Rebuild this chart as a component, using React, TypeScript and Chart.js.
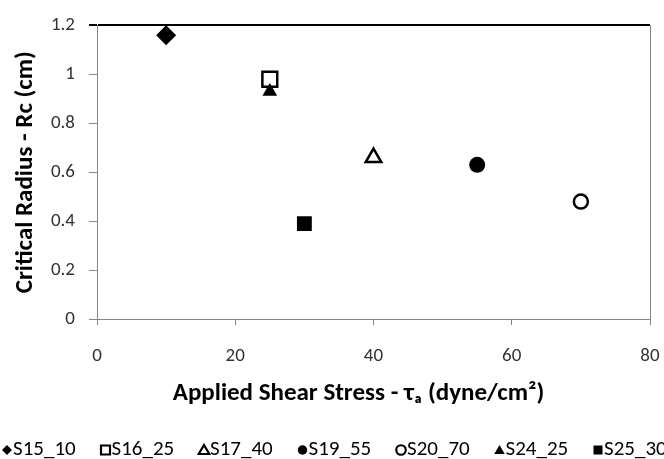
import React, { useEffect, useRef } from 'react';
import { Chart, registerables } from 'chart.js';

Chart.register(...registerables);

const seriesNames = ['S15_10', 'S16_25', 'S17_40', 'S19_55', 'S20_70', 'S24_25', 'S25_30'];
const shearStress = [10, 25, 40, 55, 70, 25, 30];
const criticalRadius = [1.16, 0.98, 0.66, 0.63, 0.48, 0.93, 0.39];
const pointStyles = ['rectRot', 'rect', 'triangle', 'circle', 'circle', 'triangle', 'rect'];
const filledMarkers = [true, false, false, true, false, true, true];
const pointRadii = [10, 10.5, 9, 8, 7, 8.5, 10.5];
const xTickValues = [0, 20, 40, 60, 80];
const yTickValues = [0, 0.2, 0.4, 0.6, 0.8, 1, 1.2];
const xAxisTitle = 'Applied Shear Stress - τₐ (dyne/cm²)';
const yAxisTitle = 'Critical Radius - Rc (cm)';

const FONT = 'Carlito, Lato, "Open Sans", sans-serif';
const AXIS_GRAY = '#868686';

function drawMarker(ctx: CanvasRenderingContext2D, style: string, filled: boolean, cx: number, cy: number, s: number) {
  ctx.save();
  ctx.beginPath();
  if (style === 'rectRot') {
    ctx.moveTo(cx, cy - s);
    ctx.lineTo(cx + s, cy);
    ctx.lineTo(cx, cy + s);
    ctx.lineTo(cx - s, cy);
    ctx.closePath();
  } else if (style === 'rect') {
    const h = s * 0.9;
    ctx.rect(cx - h, cy - h, 2 * h, 2 * h);
  } else if (style === 'triangle') {
    ctx.moveTo(cx, cy - s);
    ctx.lineTo(cx + s * 1.05, cy + s * 0.8);
    ctx.lineTo(cx - s * 1.05, cy + s * 0.8);
    ctx.closePath();
  } else {
    ctx.arc(cx, cy, s * 0.95, 0, Math.PI * 2);
  }
  if (filled) {
    ctx.fillStyle = '#000';
    ctx.fill();
  } else {
    ctx.fillStyle = '#fff';
    ctx.fill();
    ctx.lineWidth = 2.2;
    ctx.strokeStyle = '#000';
    ctx.stroke();
  }
  ctx.restore();
}

const titleAndLegend = {
  id: 'titleAndLegend',
  afterDraw(chart: any) {
    const ctx: CanvasRenderingContext2D = chart.ctx;
    const area = chart.chartArea;
    ctx.save();
    // x axis title
    ctx.font = `bold 25px ${FONT}`;
    ctx.textBaseline = 'middle';
    ctx.textAlign = 'center';
    ctx.fillStyle = '#000';
    ctx.fillText(xAxisTitle, (area.left + area.right) / 2 - 15, area.bottom + 75);
    // legend
    ctx.font = `21px ${FONT}`;
    ctx.textAlign = 'left';
    const y = chart.height - 9;
    let x = 2;
    seriesNames.forEach((name, i) => {
      drawMarker(ctx, pointStyles[i], filledMarkers[i], x + 5, y, 5);
      ctx.fillText(name, x + 11, y);
      x += 98.5;
    });
    ctx.restore();
  },
};

export default function App() {
  const canvasRef = useRef<HTMLCanvasElement | null>(null);

  useEffect(() => {
    if (!canvasRef.current) return;
    const datasets = seriesNames.map((name, i) => ({
      label: name,
      data: [{ x: shearStress[i], y: criticalRadius[i] }],
      pointStyle: pointStyles[i] as any,
      pointRadius: pointRadii[i],
      pointHoverRadius: pointRadii[i],
      backgroundColor: filledMarkers[i] ? '#000' : '#fff',
      borderColor: '#000',
      borderWidth: filledMarkers[i] ? 0 : 2.5,
      showLine: false,
      order: name === 'S24_25' ? -1 : i,
    }));

    const isTop = (c: any) => c.tick && Math.abs(c.tick.value - 1.2) < 1e-9;

    const chart = new Chart(canvasRef.current, {
      type: 'scatter',
      data: { datasets },
      plugins: [titleAndLegend],
      options: {
        animation: false,
        responsive: false,
        devicePixelRatio: 1,
        layout: { padding: { top: 24, right: 0, bottom: 49, left: 0 } },
        plugins: {
          legend: { display: false },
          tooltip: { enabled: false },
        },
        scales: {
          x: {
            type: 'linear',
            min: 0,
            max: 80,
            afterBuildTicks: (scale: any) => {
              scale.ticks = xTickValues.map((v) => ({ value: v }));
            },
            afterFit: (scale: any) => {
              scale.height = 91;
              scale.paddingLeft = 0;
              scale.paddingRight = 14;
            },
            border: { color: AXIS_GRAY, width: 1 },
            grid: {
              drawOnChartArea: true,
              color: (c: any) => (c.tick && c.tick.value === 80 ? AXIS_GRAY : 'rgba(0,0,0,0)'),
              tickColor: AXIS_GRAY,
              tickLength: 6,
            },
            ticks: {
              color: '#333',
              font: { family: FONT, size: 19 },
              padding: 20,
              callback: (v: any) => String(v),
            },
          },
          y: {
            type: 'linear',
            min: 0,
            max: 1.2,
            afterBuildTicks: (scale: any) => {
              scale.ticks = yTickValues.map((v) => ({ value: v }));
            },
            afterFit: (scale: any) => {
              scale.width = 97;
            },
            border: { color: AXIS_GRAY, width: 1 },
            grid: {
              drawOnChartArea: true,
              color: (c: any) => (isTop(c) ? '#000' : 'rgba(0,0,0,0)'),
              tickColor: (c: any) => (isTop(c) ? '#000' : AXIS_GRAY),
              lineWidth: (c: any) => (isTop(c) ? 2 : 1),
              tickLength: 8,
            },
            ticks: {
              color: '#333',
              font: { family: FONT, size: 19 },
              padding: 14,
              callback: (v: any) => String(v),
            },
            title: {
              display: true,
              text: yAxisTitle,
              color: '#000',
              font: { family: FONT, size: 25, weight: 'bold' },
              padding: { top: 11, bottom: 0 },
            },
          },
        },
      },
    });
    return () => chart.destroy();
  }, []);

  return (
    <div style={{ position: 'absolute', left: 0, top: 0, width: 664, height: 459, background: '#fff' }}>
      <canvas ref={canvasRef} width={664} height={459} />
    </div>
  );
}
